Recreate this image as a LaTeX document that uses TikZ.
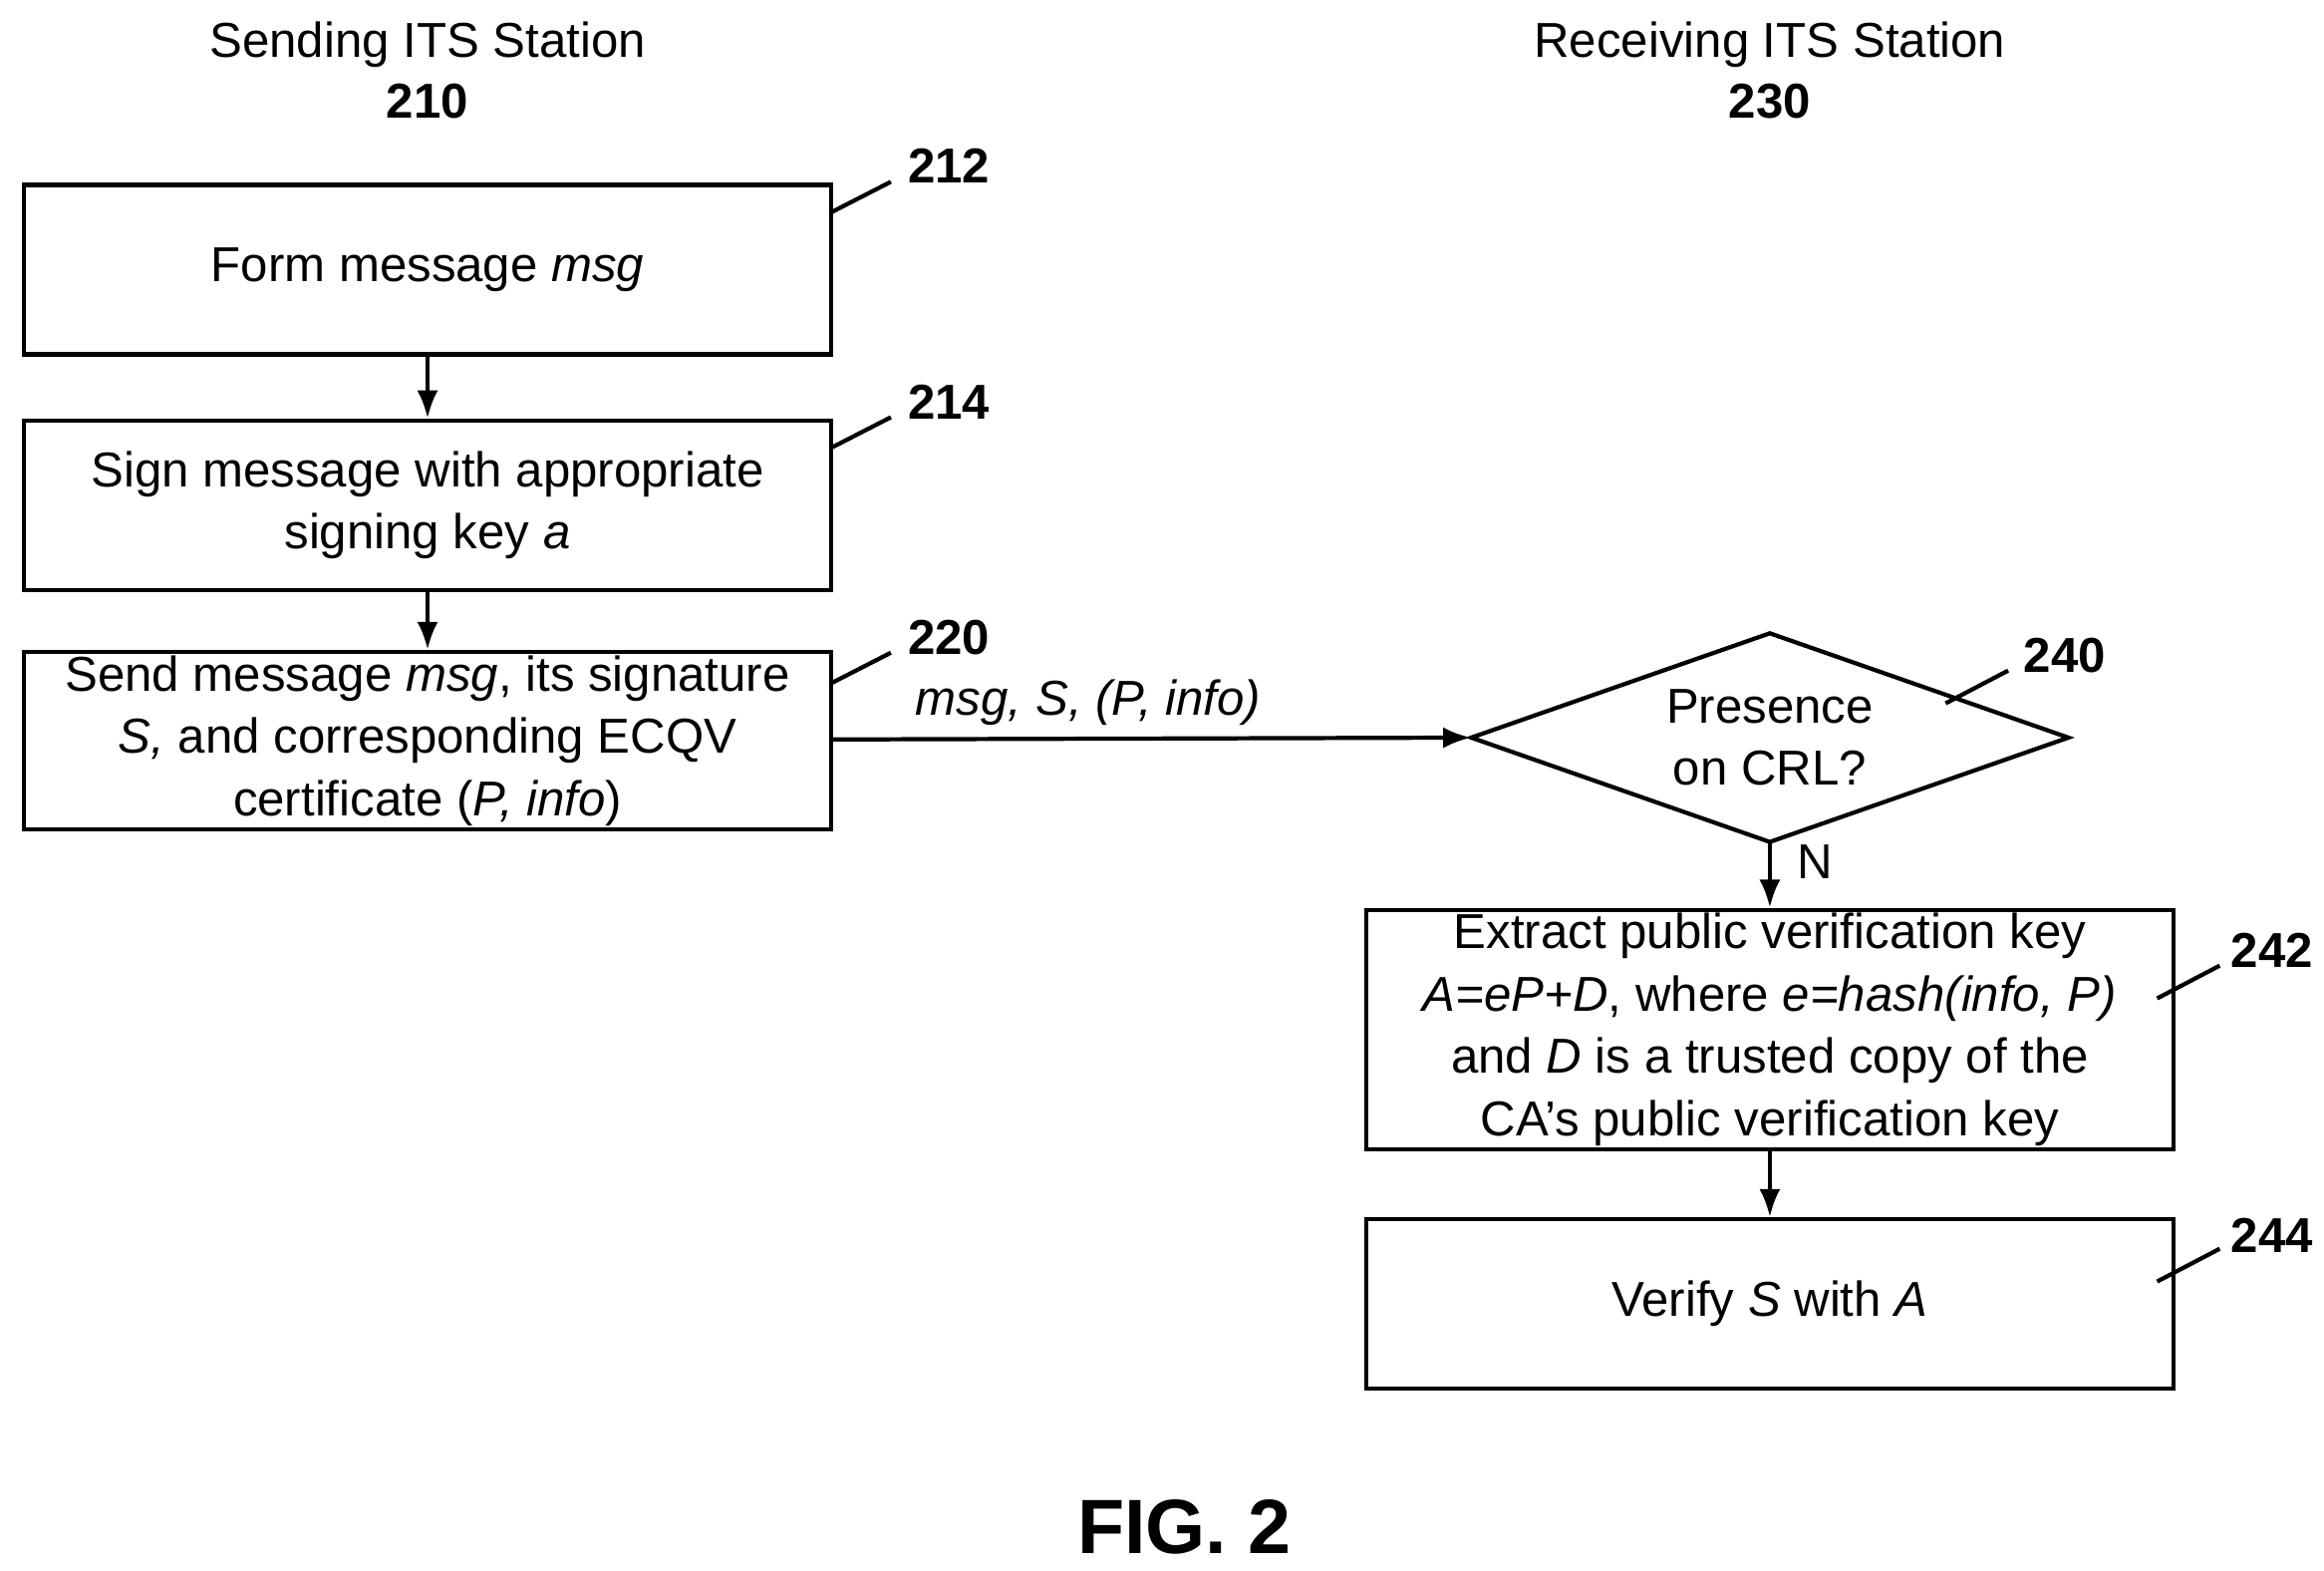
\documentclass[tikz,border=0pt]{standalone}
\usepackage{fontspec}
\setmainfont{Liberation Sans}
\usetikzlibrary{shapes.geometric,arrows.meta,positioning}

\tikzset{
  procbox/.style={draw, line width=1.2pt, minimum width=8.1cm, minimum height=1.7cm,
    align=center, inner sep=1pt, font=\fontsize{14}{17.8}\selectfont},
  test/.style={minimum width=5.98cm, minimum height=2.08cm,
    align=center, inner sep=0pt, font=\fontsize{14}{17.8}\selectfont},
  flow/.style={line width=1.2pt, -{Latex[length=8pt,width=6pt]}},
  tag/.style={font=\bfseries\fontsize{14}{16}\selectfont},
  lead/.style={line width=1.2pt},
  head/.style={align=center, font=\fontsize{14}{17.5}\selectfont}
}

\begin{document}
\begin{tikzpicture}[x=0.01495cm, y=-0.01495cm]
\useasboundingbox (0,0) rectangle (1560,1054);

% Column headers
\node[head] (hsend) at (287,47) {Sending ITS Station\\\textbf{210}};
\node[head] (hrecv) at (1188,47) {Receiving ITS Station\\\textbf{230}};

% Sending side
\node[procbox] (form) at (287,181) {Form message \textit{msg}};
\node[procbox] (sign) at (287,339) {Sign message with appropriate\\signing key \textit{a}};
\node[procbox] (send) at (287,497) {Send message \textit{msg}, its signature\\\textit{S,} and corresponding ECQV\\certificate (\textit{P, info})};

% Receiving side
\node[test] (crl) at (1188,495) {Presence\\on CRL?};
\draw[line width=1.2pt] (crl.west) -- (crl.north) -- (crl.east) -- (crl.south) -- cycle;
\node[procbox] (extract) at (1188,691) {Extract public verification key\\\textit{A=eP+D}, where \textit{e=hash(info, P)}\\and \textit{D} is a trusted copy of the\\CA's public verification key};
\node[procbox] (verify) at (1188,875) {Verify \textit{S} with \textit{A}};

% Connectors
\draw[flow] (send) -- node[above, font=\itshape\fontsize{14}{16}\selectfont, pos=0.4] {msg, S, (P, info)} (crl.west);
\draw[flow] (form) -- (sign);
\draw[flow] (sign) -- (send);
\draw[flow] (crl.south) -- node[right=4pt, font=\fontsize{14}{16}\selectfont, pos=0.3] {N} (extract);
\draw[flow] (extract) -- (verify);

% Reference numerals
\node[tag] (n212) at (637,111) {212};
\node[tag] (n214) at (637,270) {214};
\node[tag] (n220) at (637,428) {220};
\node[tag] (n240) at (1386,440) {240};
\node[tag] (n242) at (1525,638) {242};
\node[tag] (n244) at (1525,829) {244};
\draw[lead] (557,143) -- (598,122);
\draw[lead] (557,301) -- (598,280);
\draw[lead] (557,459) -- (598,438);
\draw[lead] (1306,472) -- (1348,450);
\draw[lead] (1448,670) -- (1490,648);
\draw[lead] (1448,860) -- (1490,838);

% Figure title
\node[font=\bfseries\fontsize{22}{26}\selectfont] (fig) at (795,1025) {FIG. 2};
\end{tikzpicture}
\end{document}
